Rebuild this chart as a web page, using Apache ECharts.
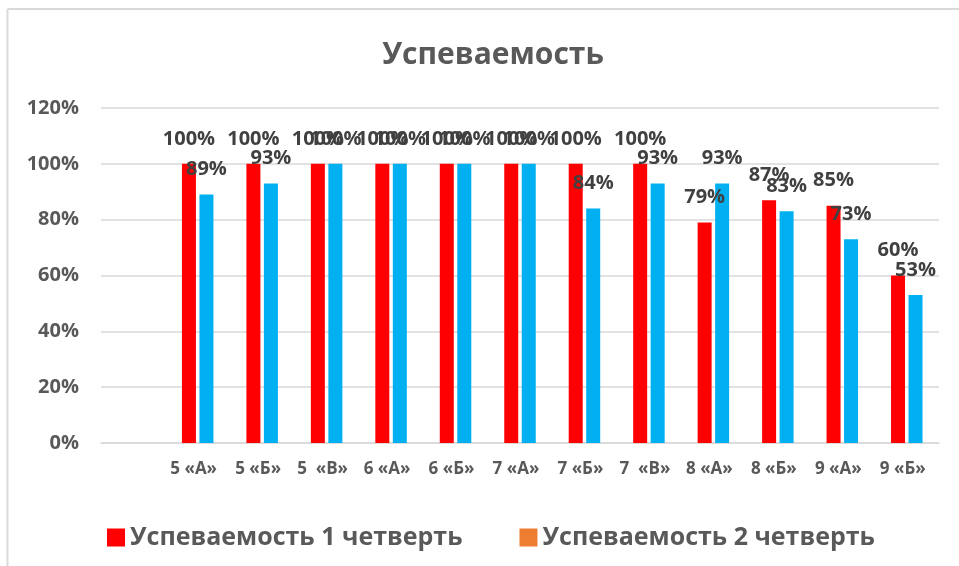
<!DOCTYPE html>
<html>
<head>
<meta charset="utf-8">
<script src="https://cdn.jsdelivr.net/npm/echarts@6/dist/echarts.min.js"></script>
<style>
  html, body { margin: 0; padding: 0; background: #fff; }
  #chart { width: 959px; height: 566px; }
</style>
</head>
<body>
<div id="chart"></div>
<script>
// классы (первая позиция пустая, как в исходной диаграмме)
var classes = ['', '5 «А»', '5 «Б»', '5  «В»', '6 «А»', '6 «Б»', '7 «А»', '7 «Б»', '7  «В»', '8 «А»', '8 «Б»', '9 «А»', '9 «Б»'];
// успеваемость, %
var quarter1 = [null, 100, 100, 100, 100, 100, 100, 100, 100, 79, 87, 85, 60];
var quarter2 = [null, 89, 93, 100, 100, 100, 100, 84, 93, 93, 83, 73, 53];
var seriesNames = ['Успеваемость 1 четверть', 'Успеваемость 2 четверть'];

var font = '"Open Sans", "DejaVu Sans", sans-serif';
var chart = echarts.init(document.getElementById('chart'));

function labelStyle() {
  return {
    show: true,
    position: 'top',
    distance: 15,
    formatter: '{c}%',
    fontFamily: font,
    fontWeight: 'bold',
    fontSize: 20,
    color: '#404040'
  };
}

var option = {
  backgroundColor: '#fff',
  animation: false,
  title: {
    text: 'Успеваемость',
    left: 488,
    textAlign: 'center',
    top: 35,
    textStyle: { fontFamily: font, fontWeight: 'bold', fontSize: 30, color: '#595959' }
  },
  legend: {
    left: 102,
    top: 520,
    icon: 'rect',
    itemWidth: 18,
    itemHeight: 18,
    itemGap: 57,
    data: [
      { name: seriesNames[0], itemStyle: { color: '#FF0000' } },
      { name: seriesNames[1], itemStyle: { color: '#ED7D31' } }
    ],
    textStyle: {
      fontFamily: font,
      fontWeight: 'bold',
      fontSize: 25,
      color: '#595959'
    }
  },
  grid: { left: 101, right: 20, top: 108, bottom: 123 },
  xAxis: {
    type: 'category',
    data: classes,
    axisLine: { lineStyle: { color: '#d9d9d9', width: 1.5 } },
    axisTick: { show: false },
    axisLabel: {
      interval: 0,
      margin: 18,
      padding: [0, 8, 0, 0],
      fontFamily: font,
      fontWeight: 'bold',
      fontSize: 17,
      color: '#595959'
    }
  },
  yAxis: {
    type: 'value',
    min: 0,
    max: 120,
    interval: 20,
    axisLine: { show: false },
    axisTick: { show: false },
    splitLine: { lineStyle: { color: '#d9d9d9', width: 1.5 } },
    axisLabel: {
      margin: 22,
      formatter: '{value}%',
      fontFamily: font,
      fontWeight: 'bold',
      fontSize: 20,
      color: '#595959'
    }
  },
  graphic: [
    { type: 'line', shape: { x1: 7.5, y1: 9, x2: 959, y2: 9 }, style: { stroke: '#d9d9d9', lineWidth: 2 } },
    { type: 'line', shape: { x1: 7.5, y1: 9, x2: 7.5, y2: 566 }, style: { stroke: '#d9d9d9', lineWidth: 2 } }
  ],
  series: [
    {
      name: seriesNames[0],
      type: 'bar',
      data: quarter1,
      barWidth: 14,
      barGap: '25%',
      itemStyle: { color: '#FF0000' },
      label: labelStyle()
    },
    {
      name: seriesNames[1],
      type: 'bar',
      data: quarter2,
      barWidth: 14,
      itemStyle: { color: '#00B0F0' },
      label: labelStyle()
    }
  ]
};

chart.setOption(option);
</script>
</body>
</html>
